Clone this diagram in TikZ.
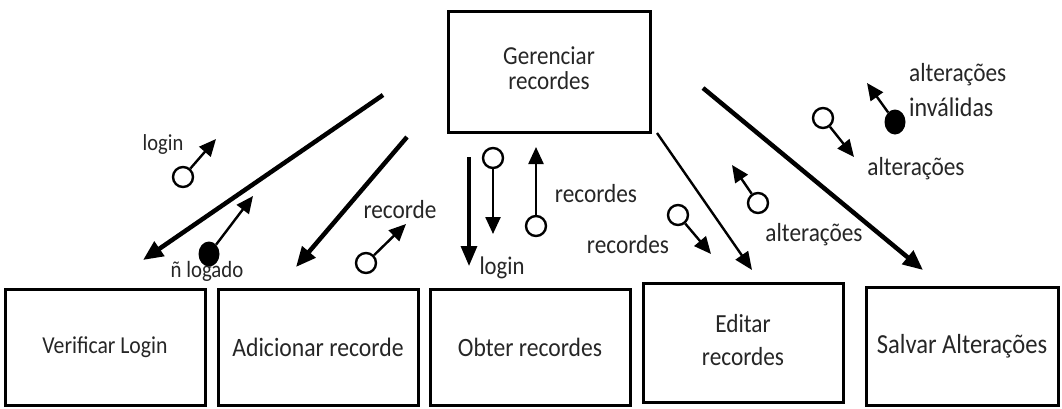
\documentclass[tikz,border=0pt]{standalone}
\usepackage{fontspec}
\setmainfont{Carlito}
\usetikzlibrary{arrows.meta,shapes.geometric}
\newcommand{\vt}[1]{\scalebox{1}[1.12]{#1}}
\newcommand{\twol}[2]{\begin{tabular}{@{}c@{}}#1\\#2\end{tabular}}
\begin{document}
\begin{tikzpicture}[x=1pt,y=-1pt,
  box/.style={draw,line width=3pt,rectangle,inner sep=0pt,align=center,text=black!85},
  lbl/.style={inner sep=0pt,text=black!85,font=\fontsize{23.3}{26}\selectfont},
  oc/.style={draw,circle,line width=2.4pt,minimum size=20pt,inner sep=0pt},
  fc/.style={fill,ellipse,minimum width=21pt,minimum height=25pt,inner sep=0pt},
  thick flow/.style={line width=4.5pt,-{Triangle[length=20pt,width=17pt]}},
  thin flow/.style={line width=2.4pt,-{Triangle[length=18pt,width=15pt]}},
  sym/.style={line width=2.4pt,-{Triangle[length=17pt,width=15pt]}}]
\useasboundingbox (0,0) rectangle (1062,408);
\fill[white] (0,0) rectangle (1062,408);
% boxes
\node[box,minimum width=202pt,minimum height=121pt,font=\fontsize{23.1}{20.5}\selectfont] (ger) at (549,71.5) {\vt{\twol{Gerenciar}{recordes}}};
\node[box,minimum width=200pt,minimum height=116pt,font=\fontsize{21.7}{26}\selectfont] (vl) at (105,347) {\vt{Verificar Login}};
\node[box,minimum width=200pt,minimum height=116pt,font=\fontsize{23.7}{26}\selectfont] (ar) at (318,347) {\vt{Adicionar recorde}};
\node[box,minimum width=200pt,minimum height=116pt,font=\fontsize{23.6}{26}\selectfont] (or) at (530,347) {\vt{Obter recordes}};
\node[box,minimum width=200pt,minimum height=119pt,font=\fontsize{23.3}{29.5}\selectfont] (er) at (743,342.5) {\vt{\twol{Editar}{recordes}}};
\node[box,minimum width=192pt,minimum height=118pt,font=\fontsize{24.6}{26}\selectfont] (sa) at (962,346) {\vt{Salvar Altera\c{c}\~oes}};
% main flows
\coordinate (a1s) at (383,95);  \coordinate (a1e) at (143,260);
\coordinate (a2s) at (407,137); \coordinate (a2e) at (296,267);
\coordinate (a3s) at (469,157); \coordinate (a3e) at (469,266);
\coordinate (a4s) at (657,133); \coordinate (a4e) at (752,270);
\coordinate (a5s) at (703,88);  \coordinate (a5e) at (923,270);
\draw[thick flow] (a1s) -- (a1e);
\draw[thick flow] (a2s) -- (a2e);
\draw[line width=3.2pt,-{Triangle[length=20pt,width=16pt]}] (a3s) -- (a3e);
\draw[thin flow] (a4s) -- (a4e);
\draw[thick flow] (a5s) -- (a5e);
% couples
\node[oc] (c1) at (183,177) {}; \coordinate (t1) at (216,139);
\draw[sym] (c1) -- (t1);
\node[fc] (c2) at (209,254) {}; \coordinate (t2) at (253,196);
\draw[sym] (c2) -- (t2);
\node[oc] (c3) at (366,263) {}; \coordinate (t3) at (406,224);
\draw[sym] (c3) -- (t3);
\node[oc] (c4) at (493,158) {}; \coordinate (t4) at (493,234);
\draw[sym] (c4) -- (t4);
\node[oc] (c5) at (536,226) {}; \coordinate (t5) at (536,147);
\draw[sym] (c5) -- (t5);
\node[oc] (c6) at (678,215) {}; \coordinate (t6) at (711,254);
\draw[sym] (c6) -- (t6);
\node[oc] (c7) at (758,203) {}; \coordinate (t7) at (732,165);
\draw[sym] (c7) -- (t7);
\node[oc] (c8) at (823,118) {}; \coordinate (t8) at (854,157);
\draw[sym] (c8) -- (t8);
\node[fc] (c9) at (895,122) {}; \coordinate (t9) at (867,83);
\draw[sym] (c9) -- (t9);
% labels
\node[lbl,font=\fontsize{20.5}{24}\selectfont] (l1) at (163,144) {\vt{login}};
\node[lbl,font=\fontsize{20.8}{24}\selectfont] (l2) at (207,271) {\vt{\~n logado}};
\node[lbl] (l3) at (400,210) {\vt{recorde}};
\node[lbl] (l4) at (596,194) {\vt{recordes}};
\node[lbl,font=\fontsize{22.7}{24}\selectfont] (l5) at (502,268) {\vt{login}};
\node[lbl] (l6) at (628,245) {\vt{recordes}};
\node[lbl] (l7) at (814,235) {\vt{altera\c{c}\~oes}};
\node[lbl] (l8) at (916,169) {\vt{altera\c{c}\~oes}};
\node[lbl,anchor=west] (l9) at (909,75) {\vt{altera\c{c}\~oes}};
\node[lbl,anchor=west,font=\fontsize{24}{26}\selectfont] (l10) at (909,107) {\vt{inv\'alidas}};
\end{tikzpicture}
\end{document}
